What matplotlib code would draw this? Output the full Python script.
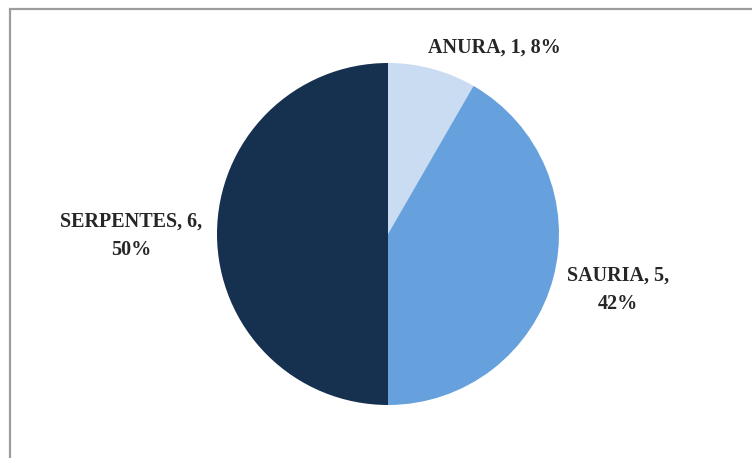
import matplotlib
matplotlib.use("Agg")
import matplotlib.pyplot as plt
from matplotlib.patches import Rectangle

categories = ["ANURA", "SAURIA", "SERPENTES"]
counts = [1, 5, 6]
colors = ["#cadcf2", "#67a1dd", "#16304f"]

W, H = 752, 458
fig = plt.figure(figsize=(W / 100, H / 100), dpi=100)
fig.patch.set_facecolor("white")

ax = fig.add_axes([0, 0, 1, 1])

cx, cy, r = 388, H - 234, 171
wedges, _ = ax.pie(counts, colors=colors, startangle=90, counterclock=False,
                   center=(cx, cy), radius=r, frame=True,
                   wedgeprops=dict(linewidth=0))
ax.set_xlim(0, W)
ax.set_ylim(0, H)
ax.set_aspect("equal")
ax.axis("off")

total = sum(counts)
labels = [f"{c}, {n}, {round(100 * n / total)}%" for c, n in zip(categories, counts)]
label_pos = [(494, H - 48), (618, H - 290), (131, H - 236)]
wraps = [False, True, True]

font = dict(family="Liberation Serif", weight="bold", size=14.5, color="#262626")
for lab, (x, y), wrap in zip(labels, label_pos, wraps):
    if wrap:
        head, pct = lab.rsplit(" ", 1)
        lab = head + "\n" + pct
    ax.text(x, y, lab, ha="center", va="center", linespacing=1.55, **font)

# chart border
fig.patches.append(Rectangle((10 / W, -0.1), 1.1, (H - 9) / H + 0.1,
                             transform=fig.transFigure, fill=False,
                             edgecolor="#9c9c9c", linewidth=1.6))

fig.savefig("out.png", dpi=100, facecolor="white")
